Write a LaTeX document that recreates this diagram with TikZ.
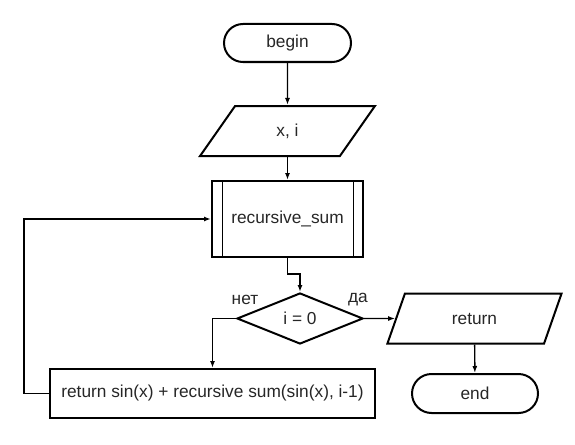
\documentclass[tikz,border=0pt]{standalone}
\usepackage{fontspec}
\setmainfont{Liberation Sans}
\usetikzlibrary{shapes.geometric,shapes.misc,arrows.meta}
\begin{document}
\begin{tikzpicture}[x=1pt,y=-1pt,
  every node/.style={font=\fontsize{17.3}{20}\selectfont, text=black!85},
  shp/.style={draw=black, line width=2pt, inner sep=0pt},
  term/.style={shp, rounded rectangle, minimum width=127pt, minimum height=38pt},
  para/.style={shp, trapezium, trapezium stretches=true, trapezium left angle=63.4, trapezium right angle=116.6, minimum width=175pt, minimum height=50pt},
  proc/.style={shp, rectangle},
  dec/.style={shp, diamond, minimum width=126pt, minimum height=51pt},
  conn/.style={line width=1.4pt, -{Latex[length=7pt,width=5pt]}},
  lbl/.style={inner sep=0pt}
]
\useasboundingbox (0,0) rectangle (575,444);
\node[term] (begin) at (287.5,43) {begin};
\node[para] (xi) at (287.5,131) {x, i};
\node[proc, minimum width=151pt, minimum height=76pt] (sub) at (287.5,219) {recursive\_sum};
\draw[line width=1pt] ([xshift=11pt]sub.north west) -- ([xshift=11pt]sub.south west);
\draw[line width=1pt] ([xshift=-11pt]sub.north east) -- ([xshift=-11pt]sub.south east);
\node[dec] (dia) at (300,318.5) {i = 0};
\node[para] (ret) at (474.5,318.5) {return};
\node[term, minimum width=126pt, minimum height=39pt] (end) at (475,393.5) {end};
\node[proc, minimum width=325pt, minimum height=49pt] (body) at (212.5,393.5) {return sin(x) + recursive sum(sin(x), i-1)};
\node[lbl] (no) at (245,300) {нет};
\node[lbl] (yes) at (358,300) {да};
\draw[conn] (begin) -- (xi);
\draw[conn] (xi) -- (sub);
\draw[conn] (sub.south) -- ++(0,16) -| (dia.north);
\draw[conn] (dia.east) -- (ret);
\draw[conn] (ret) -- (end);
\draw[conn] (dia.west) -| (body.north);
\draw[conn] (body.west) -- ++(-25,0) |- (sub.west);
\end{tikzpicture}
\end{document}
